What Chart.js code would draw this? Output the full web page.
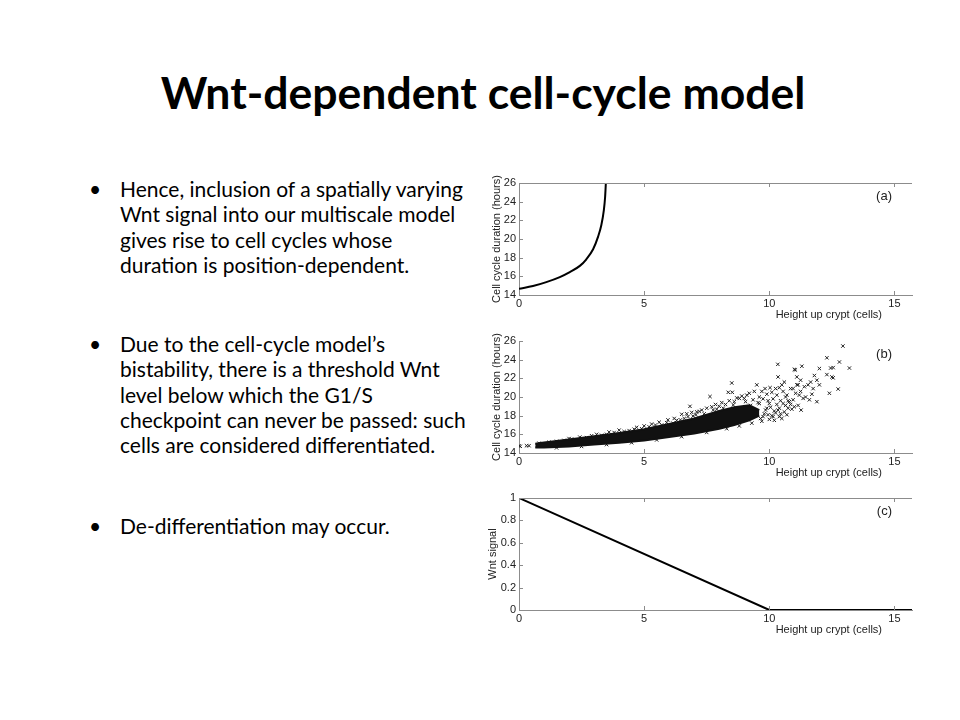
<!DOCTYPE html>
<html>
<head>
<meta charset="utf-8">
<script src="https://cdn.jsdelivr.net/npm/chart.js@4"></script>
<style>
  body { margin: 0; width: 960px; height: 720px; background: #fff; position: relative; overflow: hidden; font-family: Lato, "Open Sans", sans-serif; color: #000; }
  .title { position: absolute; left: 3px; top: 65px; width: 960px; text-align: center; font-size: 44.5px; font-weight: bold; line-height: 53px; }
  .bullet { position: absolute; left: 92px; font-size: 21px; line-height: 25.3px; }
  .bullet span { position: absolute; left: -3px; top: 0; }
  .bullet div { margin-left: 28px; white-space: nowrap; }
  .panel { position: absolute; left: 480px; width: 440px; height: 160px; }
</style>
</head>
<body>
<div class="title">Wnt-dependent cell-cycle model</div>

<div class="bullet" style="top:176px"><span>•</span><div>Hence, inclusion of a spatially varying<br>Wnt signal into our multiscale model<br>gives rise to cell cycles whose<br>duration is position-dependent.</div></div>
<div class="bullet" style="top:331px"><span>•</span><div>Due to the cell-cycle model’s<br>bistability, there is a threshold Wnt<br>level below which the G1/S<br>checkpoint can never be passed: such<br>cells are considered differentiated.</div></div>
<div class="bullet" style="top:513px"><span>•</span><div>De-differentiation may occur.</div></div>

<div class="panel" style="top:170px"><canvas id="chartA"></canvas></div>
<div class="panel" style="top:328px"><canvas id="chartB"></canvas></div>
<div class="panel" style="top:485px"><canvas id="chartC"></canvas></div>

<script>
// (a) deterministic cell cycle duration vs height
const curveX = [0, 0.56, 1.09, 1.63, 2.03, 2.43, 2.69, 2.96, 3.16, 3.29, 3.39, 3.44, 3.47];
const curveY = [14.67, 14.96, 15.38, 15.92, 16.45, 17.12, 17.83, 18.9, 20.25, 21.5, 23.1, 24.5, 26];

// (b) simulated cells: dense core band plus individual cells
const bandX = [0.65, 1, 2, 3, 4, 5, 6, 7, 8, 8.6, 9.2, 9.6];
const bandLow = [14.6, 14.6, 14.7, 14.9, 15.1, 15.35, 15.7, 16.1, 16.6, 17.0, 17.5, 18.0];
const bandHigh = [14.98, 15.12, 15.45, 15.8, 16.15, 16.55, 17.1, 17.7, 18.5, 18.9, 19.1, 18.6];
const cellPts = [
  [0, 14.78], [0.05, 14.72], [0.3, 14.78], [0.4, 14.78],
  [0.8, 15.05], [1.2, 15.15], [1.5, 15.25], [1.8, 15.35], [2.0, 15.55], [2.1, 15.5], [2.43, 15.7], [2.7, 15.65],
  [2.9, 15.85], [3.1, 16.0], [3.3, 15.9], [3.5, 16.0], [3.6, 16.25], [3.8, 16.2], [4.0, 16.45], [4.2, 16.3],
  [4.4, 16.4], [4.6, 16.55], [4.7, 16.75], [4.9, 16.6], [5.0, 16.9], [5.2, 16.8], [5.3, 17.1], [5.45, 17.0],
  [5.6, 17.3], [5.7, 17.0], [5.9, 17.25], [5.95, 17.55], [6.15, 17.2], [6.2, 17.7], [6.3, 17.5], [6.45, 17.55],
  [6.5, 18.15], [6.6, 17.7], [6.7, 18.2], [6.75, 17.9], [6.83, 19.0], [6.9, 18.35], [6.95, 17.95], [7.07, 18.1],
  [7.1, 18.4], [7.2, 18.45], [7.3, 18.6], [7.4, 18.2], [7.5, 18.8], [7.63, 20.05], [7.7, 18.95], [7.76, 18.6],
  [7.85, 19.2], [7.9, 18.7], [8.0, 19.0], [8.1, 19.4], [8.16, 18.8], [8.25, 19.2], [8.36, 20.5], [8.4, 19.6],
  [8.52, 20.5], [8.5, 21.5], [8.56, 19.15], [8.6, 19.5], [8.7, 19.9], [8.8, 19.85], [8.9, 20.1], [9.0, 19.85],
  [9.05, 19.5], [9.1, 20.2], [9.2, 20.4], [9.25, 19.1], [9.35, 19.7], [9.4, 20.6], [9.5, 21.3], [9.55, 19.4],
  [9.6, 20.0], [9.7, 20.6], [9.75, 19.8], [9.83, 20.9], [9.9, 20.3], [9.95, 19.6], [10.03, 21.0], [10.1, 20.5],
  [10.25, 20.9], [10.4, 21.0],
  [1.5, 14.55], [2.5, 14.7], [3.5, 14.9], [4.5, 15.1], [5.5, 15.4], [6.5, 15.75], [7.5, 16.2],
  [8.3, 16.6], [8.8, 16.9], [9.3, 17.2], [9.7, 17.4], [10.0, 17.6], [10.2, 17.5], [10.4, 17.9],
  [9.6, 19.3], [9.65, 17.7], [9.75, 17.9], [9.8, 18.2], [9.85, 18.6], [9.9, 18.8], [9.95, 18.1], [10.0, 19.3],
  [10.05, 18.9], [10.1, 18.0], [10.15, 19.8], [10.15, 17.9], [10.2, 18.5], [10.25, 18.3], [10.3, 19.2],
  [10.3, 20.2], [10.35, 18.6], [10.35, 22.15], [10.34, 23.5], [10.4, 18.8], [10.45, 19.6], [10.45, 18.2],
  [10.5, 17.7], [10.5, 21.3], [10.55, 20.6], [10.55, 19.3], [10.6, 21.6], [10.6, 18.4], [10.65, 19.1],
  [10.65, 20.0], [10.7, 20.2], [10.7, 18.1], [10.75, 19.6], [10.75, 18.8], [10.8, 19.5], [10.85, 20.9],
  [10.85, 19.2], [10.9, 18.7], [10.95, 20.9], [10.95, 19.7], [11.0, 18.95], [11.0, 22.95], [11.04, 22.9],
  [11.05, 20.4], [11.1, 21.3], [11.1, 22.15], [11.15, 21.3], [11.15, 19.1], [11.2, 20.2], [11.25, 21.8],
  [11.25, 20.6], [11.27, 18.6], [11.3, 23.3], [11.35, 19.85], [11.4, 21.1], [11.45, 20.0], [11.55, 21.3],
  [11.6, 19.7], [11.65, 21.6], [11.7, 20.3], [11.75, 20.9], [11.8, 22.3], [11.9, 21.8], [11.9, 19.5],
  [12.0, 21.3], [12.0, 23.05], [12.3, 24.2], [12.3, 22.4], [12.4, 20.4], [12.45, 23.1], [12.5, 22.15],
  [12.55, 23.15], [12.55, 22.05], [12.75, 20.85], [12.8, 23.75], [12.94, 25.46], [13.2, 23.1]
];

// (c) Wnt signal profile
const wntX = [0, 10, 15.7];
const wntY = [1, 0, 0];

const xTicksStep = 5;
const axisGray = '#8c8c8c';
const tickFont = { family: '"Liberation Sans", Arial, sans-serif', size: 11 };

const axisDecor = {
  id: 'axisDecor',
  afterDraw(chart, args, opts) {
    const { ctx, chartArea: a, scales: { x, y } } = chart;
    ctx.save();
    ctx.strokeStyle = axisGray;
    ctx.lineWidth = 1;
    ctx.beginPath();
    x.ticks.forEach(t => {
      const px = Math.round(x.getPixelForValue(t.value)) + 0.5;
      ctx.moveTo(px, a.bottom); ctx.lineTo(px, a.bottom - 4);
      if (opts.top) { ctx.moveTo(px, a.top); ctx.lineTo(px, a.top + 4); }
    });
    y.ticks.forEach(t => {
      const py = Math.round(y.getPixelForValue(t.value)) + 0.5;
      ctx.moveTo(a.left, py); ctx.lineTo(a.left + 4, py);
    });
    if (opts.top) { ctx.moveTo(a.left, a.top + 0.5); ctx.lineTo(a.right, a.top + 0.5); }
    ctx.stroke();
    ctx.fillStyle = '#222';
    ctx.textAlign = 'right';
    ctx.textBaseline = 'middle';
    ctx.font = '11px "Liberation Sans", Arial, sans-serif';
    ctx.fillText('Height up crypt (cells)', a.right - 30, a.bottom + 20);
    ctx.font = '13px "Liberation Sans", Arial, sans-serif';
    ctx.fillText(opts.tag, a.right - 20, a.top + 13);
    ctx.restore();
  }
};

function makeOptions(yMin, yMax, yStep, yTitle, tag, top, padLeft, yWidth) {
  return {
    responsive: true,
    maintainAspectRatio: false,
    animation: false,
    layout: { padding: { left: padLeft, top: 13, right: 8, bottom: 0 } },
    plugins: { legend: { display: false }, tooltip: { enabled: false }, axisDecor: { tag: tag, top: top } },
    scales: {
      x: {
        type: 'linear', min: 0, max: 15.7,
        ticks: { stepSize: xTicksStep, includeBounds: false, padding: 2, color: '#222', font: tickFont, maxRotation: 0 },
        grid: { display: false, drawTicks: false },
        border: { color: axisGray },
        afterFit: s => { s.height = 35; }
      },
      y: {
        type: 'linear', min: yMin, max: yMax,
        ticks: { stepSize: yStep, padding: 3, color: '#222', font: tickFont,
                 callback: v => String(Math.round(v * 10) / 10) },
        grid: { display: false, drawTicks: false },
        border: { color: axisGray },
        title: { display: true, text: yTitle, color: '#222', font: tickFont, padding: 0 },
        afterFit: s => { s.width = yWidth; }
      }
    }
  };
}

const toXY = (xs, ys) => xs.map((v, i) => ({ x: v, y: ys[i] }));

new Chart(document.getElementById('chartA'), {
  type: 'line',
  data: {
    datasets: [{
      data: toXY(curveX, curveY),
      borderColor: '#000', borderWidth: 2, pointRadius: 0,
      cubicInterpolationMode: 'monotone', fill: false
    }]
  },
  options: makeOptions(14, 26, 2, 'Cell cycle duration (hours)', '(a)', true, 10, 29),
  plugins: [axisDecor]
});

new Chart(document.getElementById('chartB'), {
  type: 'scatter',
  data: {
    datasets: [
      {
        type: 'line', data: toXY(bandX, bandLow),
        borderColor: '#111', borderWidth: 2, pointRadius: 0, tension: 0, fill: false
      },
      {
        type: 'line', data: toXY(bandX, bandHigh),
        borderColor: '#111', borderWidth: 2, pointRadius: 0, tension: 0,
        fill: '-1', backgroundColor: '#111'
      },
      {
        data: cellPts.map(p => ({ x: p[0], y: p[1] })),
        pointStyle: 'crossRot', pointRadius: 2.4, borderWidth: 1,
        borderColor: '#222', backgroundColor: '#222'
      }
    ]
  },
  options: makeOptions(14, 26, 2, 'Cell cycle duration (hours)', '(b)', false, 10, 29),
  plugins: [axisDecor]
});

new Chart(document.getElementById('chartC'), {
  type: 'line',
  data: {
    datasets: [{
      data: toXY(wntX, wntY),
      borderColor: '#000', borderWidth: 2, pointRadius: 0, tension: 0, fill: false
    }]
  },
  options: makeOptions(0, 1, 0.2, 'Wnt signal', '(c)', true, 6, 33),
  plugins: [axisDecor]
});
</script>
</body>
</html>
